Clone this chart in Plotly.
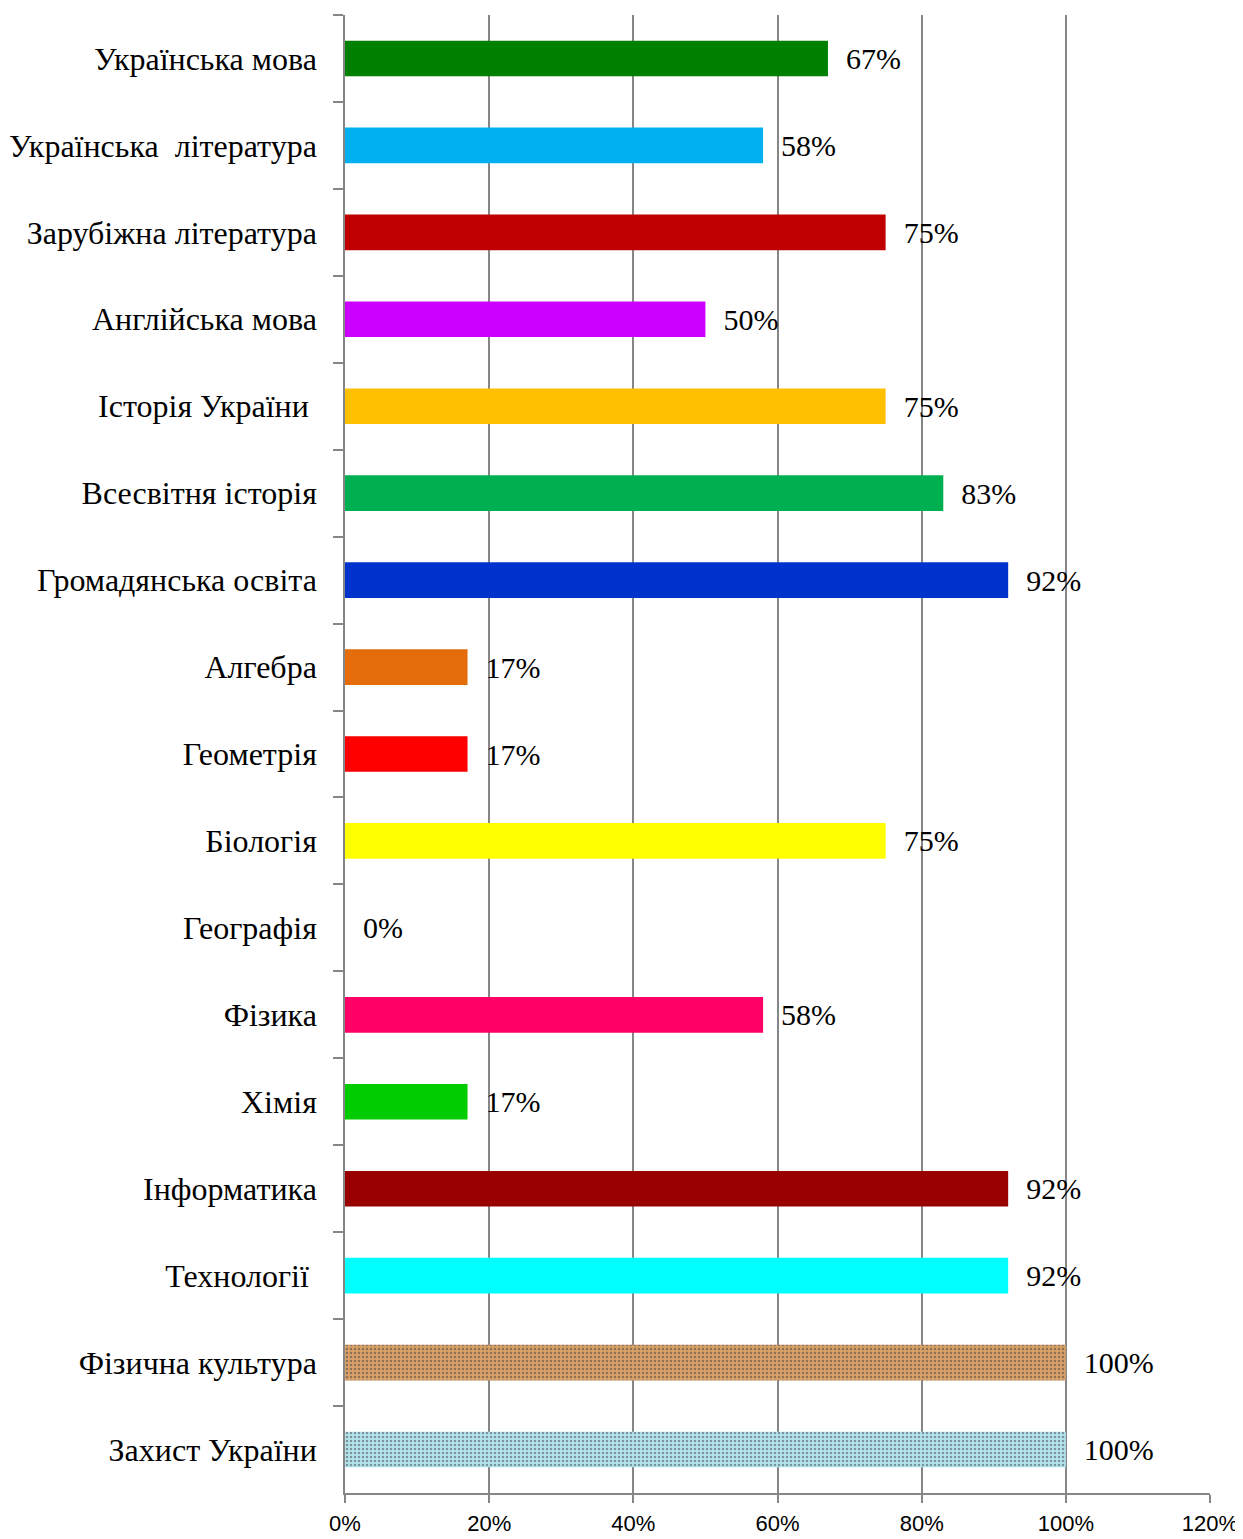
import plotly.graph_objects as go

subjects = [
    "Українська мова",
    "Українська\u00a0\u00a0література",
    "Зарубіжна література",
    "Англійська мова",
    "Історія України\u00a0",
    "Всесвітня історія",
    "Громадянська освіта",
    "Алгебра",
    "Геометрія",
    "Біологія",
    "Географія",
    "Фізика",
    "Хімія",
    "Інформатика",
    "Технології\u00a0",
    "Фізична культура",
    "Захист України",
]
shares = [0.67, 0.58, 0.75, 0.50, 0.75, 0.83, 0.92, 0.17, 0.17, 0.75,
          0.0, 0.58, 0.17, 0.92, 0.92, 1.00, 1.00]
bar_colors = ["#008000", "#00B0F0", "#C00000", "#CC00FF", "#FFC000", "#00B050",
              "#0033CC", "#E46C0A", "#FF0000", "#FFFF00", "#FFFFFF", "#FF0066",
              "#00CC00", "#990000", "#00FFFF", "#D9A068", "#B2E4EE"]
# textured bars (sand / water) approximated with plotly patterns
pat_shape = [""] * 15 + [".", "."]
pat_bg = ["#FFFFFF"] * 15 + ["#DCA66E", "#B6E5EF"]
pat_fg = ["#000000"] * 15 + ["#A86B3A", "#8FCAD8"]

serif = "Liberation Serif, Times New Roman, serif"
grid = "#868686"

fig = go.Figure()
fig.add_trace(go.Bar(
    x=shares,
    y=subjects,
    orientation="h",
    marker=dict(
        color=bar_colors,
        line=dict(width=0),
        pattern=dict(shape=pat_shape, bgcolor=pat_bg, fgcolor=pat_fg,
                     size=4, solidity=0.3, fillmode="overlay"),
    ),
    texttemplate="\u00a0\u00a0%{x:.0%}",
    textposition="outside",
    textfont=dict(family=serif, size=30, color="black"),
    cliponaxis=False,
    hoverinfo="skip",
))

# page body has an 8px margin, so the figure is a bit smaller than the window
fig.update_layout(
    width=1235,
    height=1531,
    paper_bgcolor="white",
    plot_bgcolor="white",
    margin=dict(l=337, r=33, t=7, b=46),
    bargap=0.59,
    showlegend=False,
    xaxis=dict(
        range=[0, 1.2],
        dtick=0.2,
        tickformat=".0%",
        automargin=False,
        showgrid=True,
        gridcolor=grid,
        gridwidth=1.5,
        showline=True,
        linecolor=grid,
        linewidth=1.5,
        ticks="outside",
        ticklen=8,
        tickcolor=grid,
        tickwidth=1.5,
        ticklabelstandoff=2,
        zeroline=False,
        tickfont=dict(family="Liberation Sans, Arial, sans-serif", size=22, color="black"),
    ),
    yaxis=dict(
        autorange="reversed",
        automargin=False,
        showline=True,
        linecolor=grid,
        linewidth=1.5,
        ticks="outside",
        tickson="boundaries",
        ticklen=10,
        tickcolor=grid,
        tickwidth=1.5,
        ticklabelstandoff=20,
        showgrid=False,
        tickfont=dict(family=serif, size=32, color="black"),
    ),
)

fig.write_html("out.html")
